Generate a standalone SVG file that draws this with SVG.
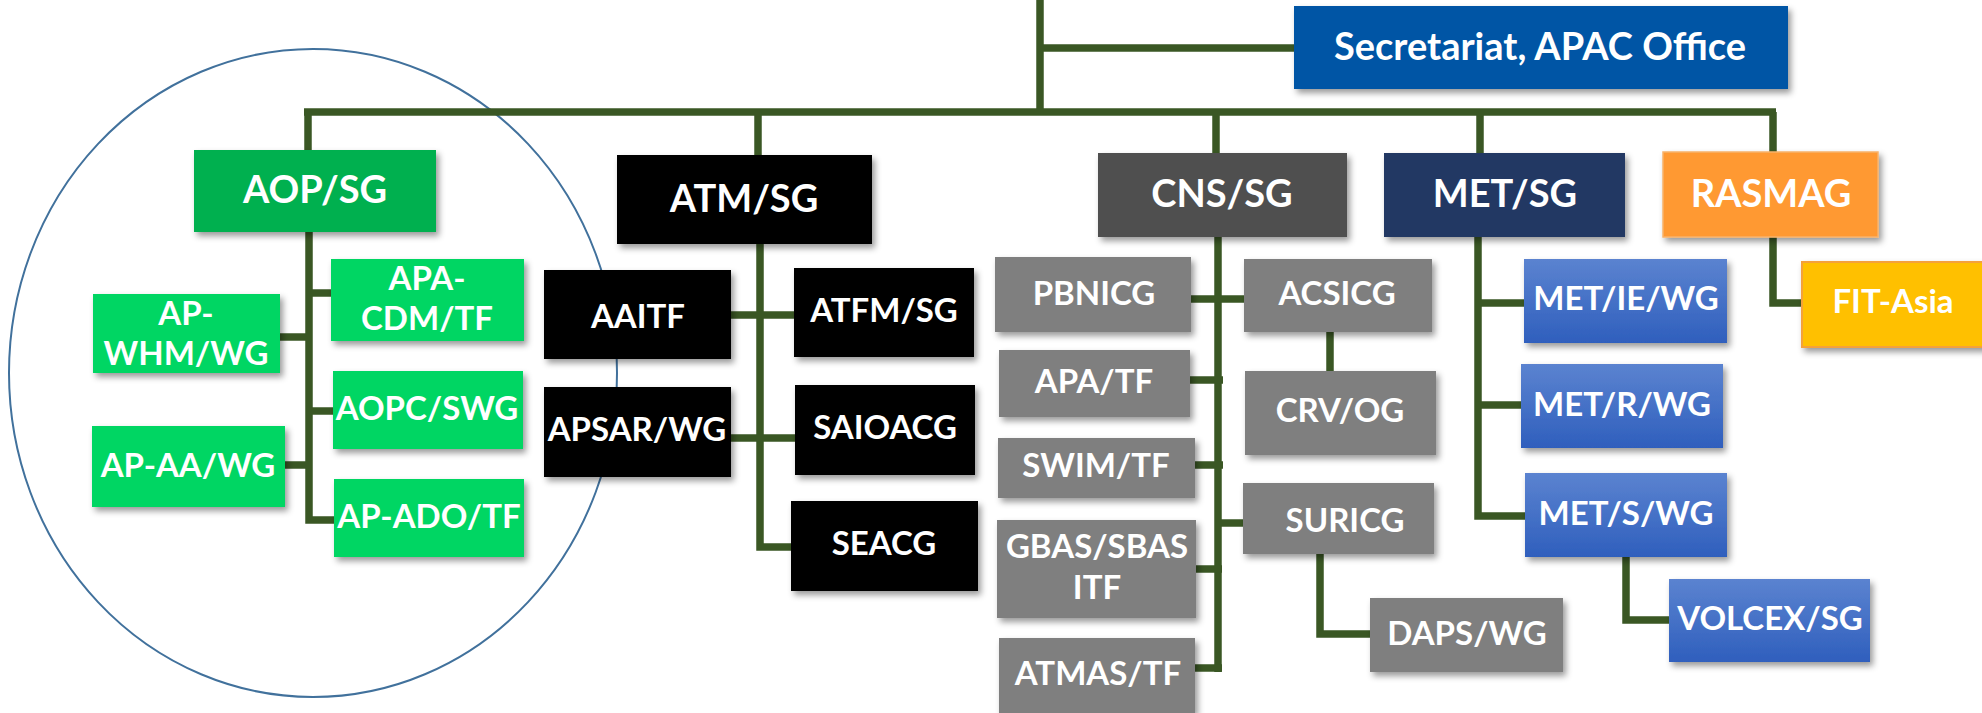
<svg xmlns="http://www.w3.org/2000/svg" width="1982" height="713" viewBox="0 0 1982 713">
<defs>
<filter id="sh" x="-10%" y="-10%" width="130%" height="140%">
<feDropShadow dx="3" dy="4" stdDeviation="3" flood-color="#000" flood-opacity="0.4"/>
</filter>
<linearGradient id="blu" x1="0" y1="0" x2="0" y2="1">
<stop offset="0" stop-color="#5B83D0"/>
<stop offset="1" stop-color="#2F5FBD"/>
</linearGradient>
<style>
rect{filter:url(#sh)}
.t{font-family:Lato,"Open Sans","Liberation Sans",sans-serif;font-weight:bold;fill:#fff;text-anchor:middle}
.top{font-size:38px}
.ch{font-size:33px}
.cn{fill:none;stroke:#3A5724;stroke-width:7.5;stroke-linejoin:miter;stroke-linecap:butt}
.aop{fill:#00B050}
.lg{fill:#00D664}
.blk{fill:#000}
.cns{fill:#505050}
.gr{fill:#7F7F7F}
.met{fill:#203864}
.mb{fill:url(#blu)}
</style>
</defs>
<rect width="1982" height="713" fill="#fff" style="filter:none"/>
<ellipse cx="313" cy="373" rx="304" ry="324" fill="none" stroke="#41719C" stroke-width="2"/>
<g id="connectors" class="cn">
<path d="M1040 0V112"/>
<path d="M1040 48H1295"/>
<path d="M304 112H1776"/>
<path d="M308 112V151"/>
<path d="M758 112V156"/>
<path d="M1216 112V154"/>
<path d="M1480 112V154"/>
<path d="M1773 112V153"/>
<path d="M309 231V520H335"/>
<path d="M309 293H332"/>
<path d="M279 337H309"/>
<path d="M309 411H334"/>
<path d="M284 465H309"/>
<path d="M760 243V547H792"/>
<path d="M730 315H795"/>
<path d="M730 438H796"/>
<path d="M1218 236V672"/>
<path d="M1190 299H1245"/>
<path d="M1189 380H1223"/>
<path d="M1194 465H1223"/>
<path d="M1195 569H1222"/>
<path d="M1194 668H1222"/>
<path d="M1218 523H1244"/>
<path d="M1330 331V372"/>
<path d="M1320 547V634H1371"/>
<path d="M1478 236V516H1526"/>
<path d="M1478 303H1525"/>
<path d="M1478 405H1522"/>
<path d="M1626 556V620H1670"/>
<path d="M1773 236V303H1803"/>
</g>
<g id="secretariat"><rect x="1294" y="6" width="494" height="83" fill="#0055A5"/><text class="t top" x="1540" y="60">Secretariat, APAC Office</text></g>
<g id="aop-sg"><rect class="aop" x="194" y="150" width="242" height="82"/><text class="t top" x="315" y="203">AOP/SG</text></g>
<g id="apa-cdm-tf"><rect class="lg" x="331" y="259" width="193" height="82"/><text class="t ch" x="427" y="290">APA-</text><text class="t ch" x="427" y="330">CDM/TF</text></g>
<g id="ap-whm-wg"><rect class="lg" x="93" y="294" width="187" height="79"/><text class="t ch" x="186" y="325">AP-</text><text class="t ch" x="186" y="365">WHM/WG</text></g>
<g id="aopc-swg"><rect class="lg" x="333" y="371" width="190" height="78"/><text class="t ch" x="427" y="420">AOPC/SWG</text></g>
<g id="ap-aa-wg"><rect class="lg" x="92" y="426" width="193" height="81"/><text class="t ch" x="188" y="477">AP-AA/WG</text></g>
<g id="ap-ado-tf"><rect class="lg" x="334" y="479" width="190" height="78"/><text class="t ch" x="429" y="528">AP-ADO/TF</text></g>
<g id="atm-sg"><rect class="blk" x="617" y="155" width="255" height="89"/><text class="t top" x="744" y="212">ATM/SG</text></g>
<g id="aaitf"><rect class="blk" x="544" y="270" width="187" height="89"/><text class="t ch" x="638" y="328">AAITF</text></g>
<g id="atfm-sg"><rect class="blk" x="794" y="268" width="180" height="89"/><text class="t ch" x="884" y="322">ATFM/SG</text></g>
<g id="apsar-wg"><rect class="blk" x="544" y="387" width="187" height="90"/><text class="t ch" x="637" y="441">APSAR/WG</text></g>
<g id="saioacg"><rect class="blk" x="795" y="385" width="180" height="90"/><text class="t ch" x="885" y="439">SAIOACG</text></g>
<g id="seacg"><rect class="blk" x="791" y="501" width="187" height="90"/><text class="t ch" x="884" y="555">SEACG</text></g>
<g id="cns-sg"><rect class="cns" x="1098" y="153" width="249" height="84"/><text class="t top" x="1222" y="207">CNS/SG</text></g>
<g id="pbnicg"><rect class="gr" x="995" y="257" width="196" height="75"/><text class="t ch" x="1094" y="305">PBNICG</text></g>
<g id="apa-tf"><rect class="gr" x="999" y="350" width="191" height="67"/><text class="t ch" x="1094" y="393">APA/TF</text></g>
<g id="swim-tf"><rect class="gr" x="998" y="438" width="197" height="60"/><text class="t ch" x="1096" y="477">SWIM/TF</text></g>
<g id="gbas-sbas-itf"><rect class="gr" x="997" y="520" width="199" height="98"/><text class="t ch" x="1097" y="558">GBAS/SBAS</text><text class="t ch" x="1097" y="599">ITF</text></g>
<g id="atmas-tf"><rect class="gr" x="999" y="638" width="196" height="75"/><text class="t ch" x="1098" y="685">ATMAS/TF</text></g>
<g id="acsicg"><rect class="gr" x="1244" y="259" width="188" height="73"/><text class="t ch" x="1337" y="305">ACSICG</text></g>
<g id="crv-og"><rect class="gr" x="1245" y="371" width="191" height="84"/><text class="t ch" x="1340" y="422">CRV/OG</text></g>
<g id="suricg"><rect class="gr" x="1243" y="483" width="191" height="71"/><text class="t ch" x="1345" y="532">SURICG</text></g>
<g id="daps-wg"><rect class="gr" x="1370" y="598" width="193" height="74"/><text class="t ch" x="1467" y="645">DAPS/WG</text></g>
<g id="met-sg"><rect class="met" x="1384" y="153" width="241" height="84"/><text class="t top" x="1505" y="207">MET/SG</text></g>
<g id="met-ie-wg"><rect class="mb" x="1524" y="259" width="203" height="84"/><text class="t ch" x="1626" y="310">MET/IE/WG</text></g>
<g id="met-r-wg"><rect class="mb" x="1521" y="364" width="202" height="84"/><text class="t ch" x="1622" y="416">MET/R/WG</text></g>
<g id="met-s-wg"><rect class="mb" x="1525" y="473" width="202" height="84"/><text class="t ch" x="1626" y="525">MET/S/WG</text></g>
<g id="volcex-sg"><rect class="mb" x="1669" y="579" width="201" height="83"/><text class="t ch" x="1770" y="630">VOLCEX/SG</text></g>
<g id="rasmag"><rect x="1663" y="152" width="215" height="85" fill="#FF9933" stroke="#F8B26A" stroke-width="1.5"/><text class="t top" x="1771" y="207">RASMAG</text></g>
<g id="fit-asia"><rect x="1802" y="262" width="190" height="85" fill="#FFC000" stroke="#F4A13A" stroke-width="2"/><text class="t ch" x="1893" y="313">FIT-Asia</text></g>
</svg>
